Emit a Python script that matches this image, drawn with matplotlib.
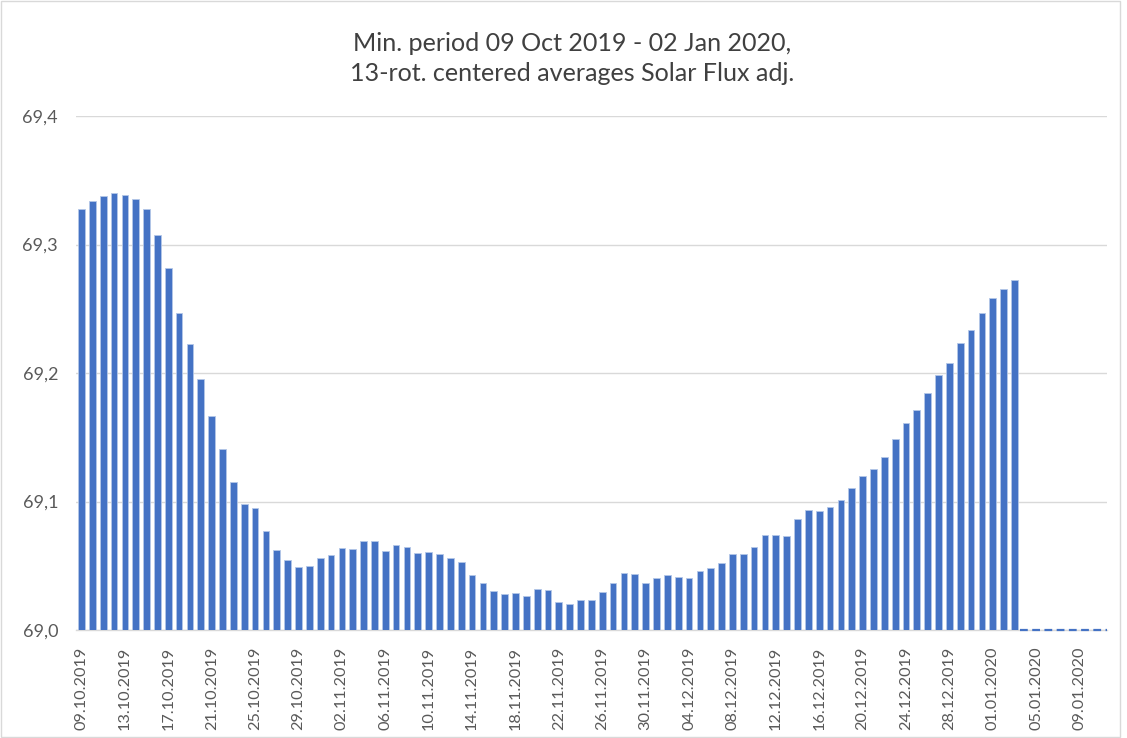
import datetime as dt
import matplotlib
matplotlib.use("Agg")
import matplotlib.pyplot as plt
from matplotlib.ticker import FuncFormatter, MultipleLocator
from matplotlib.patches import Rectangle

plt.rcParams['font.family'] = ['Lato', 'DejaVu Sans']

# daily categories 09.10.2019 .. 11.01.2020, data available up to 03.01.2020
start = dt.date(2019, 10, 9)
n_days = 95
dates = [start + dt.timedelta(days=i) for i in range(n_days)]
date_labels = [d.strftime("%d.%m.%Y") for d in dates]

flux = [
    69.328, 69.3335, 69.3377, 69.340, 69.3385, 69.3354, 69.3276, 69.3076,
    69.2817, 69.2467, 69.2228, 69.1956, 69.1665, 69.1411, 69.1149, 69.098,
    69.0947, 69.0773, 69.0625, 69.0547, 69.0488, 69.050, 69.056, 69.0586,
    69.0636, 69.0633, 69.0695, 69.0693, 69.0617, 69.0661, 69.0648, 69.0597,
    69.0605, 69.0589, 69.056, 69.0527, 69.0428, 69.0368, 69.0304, 69.0283,
    69.029, 69.0267, 69.0319, 69.0314, 69.0216, 69.0202, 69.0236, 69.0233,
    69.0298, 69.0363, 69.0441, 69.0433, 69.0368, 69.0402, 69.0428, 69.0415,
    69.0402, 69.0459, 69.048, 69.0521, 69.0589, 69.0589, 69.0646, 69.0739,
    69.0742, 69.0729, 69.0864, 69.0936, 69.0929, 69.0957, 69.1014, 69.1103,
    69.1196, 69.125, 69.1349, 69.1486, 69.1611, 69.171, 69.1844, 69.1987,
    69.2075, 69.2233, 69.2335, 69.2464, 69.2586, 69.2654, 69.2721,
]

y_min, y_max = 69.0, 69.4
bar_color = "#4472C4"
text_color = "#595959"

fig = plt.figure(figsize=(11.27, 7.38), dpi=100)
ax = fig.add_axes([0.0675, 0.1463, 0.9145, 0.6965])

x = list(range(len(flux)))
ax.bar(x, flux, width=0.62, color=bar_color, edgecolor="#B4C7E7", linewidth=0.6, zorder=3)

# empty categories after the data end -> dashed baseline
ax.plot([len(flux) - 0.5, n_days - 0.5], [y_min, y_min], color=bar_color,
        linestyle=(0, (3.5, 2)), linewidth=1.6, zorder=4, clip_on=False)

ax.set_xlim(-0.5, n_days - 0.5)
ax.set_ylim(y_min, y_max)
ax.yaxis.set_major_locator(MultipleLocator(0.1))
ax.yaxis.set_major_formatter(FuncFormatter(lambda v, p: f"{v:.1f}".replace(".", ",")))

ax.set_xticks(range(0, n_days, 4))
ax.set_xticklabels(date_labels[::4], rotation=90)

ax.grid(axis="y", color="#D9D9D9", linewidth=1.0, zorder=0)
for s in ["top", "right", "left"]:
    ax.spines[s].set_visible(False)
ax.spines["bottom"].set_color("#D9D9D9")
ax.spines["bottom"].set_linewidth(1.0)
ax.tick_params(axis="both", length=0, colors=text_color)
ax.tick_params(axis="x", pad=12, labelsize=11.7)
ax.tick_params(axis="y", pad=13, labelsize=13)

fig.text(0.508, 0.921, "Min. period 09 Oct 2019 - 02 Jan 2020,\n13-rot. centered averages Solar Flux adj.",
         ha="center", va="center", fontsize=18.1, color="#404040", linespacing=1.35)

# chart frame
fig.patches.append(Rectangle((0.0005, 0.001), 0.993, 0.998, transform=fig.transFigure,
                             fill=False, edgecolor="#D9D9D9", linewidth=1.0))

fig.savefig("out.png", dpi=100)
